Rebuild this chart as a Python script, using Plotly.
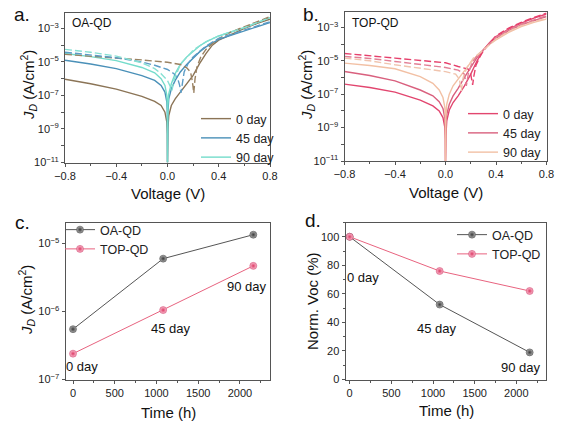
import plotly.graph_objects as go

# ---- panel a: OA-QD J-V, log10 of |J| (A/cm^2) ----
V_DARK = [-0.8, -0.6, -0.4, -0.2, -0.1, -0.05, -0.02, -0.005, -0.001, 0.0, 0.003, 0.01, 0.03, 0.06,
          0.1, 0.15, 0.2, 0.25, 0.3, 0.35, 0.4, 0.5, 0.6, 0.7, 0.8]
OA_DARK_0 = [-6.03, -6.3, -6.62, -7.05, -7.35, -7.6, -8.0, -8.6, -9.3, -11.0, -9.0, -8.2, -7.6, -7.2,
             -6.8, -6.3, -5.8, -5.1, -4.5, -4.0, -3.7, -3.35, -3.0, -2.7, -2.45]
OA_DARK_45 = [-4.9, -5.12, -5.4, -5.82, -6.1, -6.4, -6.8, -7.4, -8.1, -11.0, -8.0, -7.2, -6.6, -6.1,
              -5.6, -5.15, -4.75, -4.4, -4.1, -3.85, -3.65, -3.4, -3.15, -2.9, -2.65]
OA_DARK_90 = [-4.5, -4.68, -4.92, -5.33, -5.65, -6.0, -6.4, -7.0, -7.7, -11.0, -7.6, -6.9, -6.3, -5.7,
              -5.15, -4.7, -4.35, -4.05, -3.8, -3.6, -3.45, -3.2, -2.95, -2.65, -2.35]

V_OA_LIGHT_0 = [-0.8, -0.6, -0.4, -0.2, 0.0, 0.1, 0.15, 0.18, 0.195, 0.205, 0.215, 0.23, 0.26, 0.3,
                0.35, 0.4, 0.5, 0.6, 0.7, 0.8]
OA_LIGHT_0 = [-4.55, -4.65, -4.75, -4.88, -5.02, -5.15, -5.35, -5.6, -6.2, -6.85, -6.0, -5.3, -4.7, -4.25,
              -3.9, -3.6, -3.2, -2.9, -2.6, -2.3]
V_OA_LIGHT_45 = [-0.8, -0.6, -0.4, -0.2, -0.1, 0.0, 0.05, 0.08, 0.095, 0.105, 0.115, 0.13, 0.16, 0.2,
                 0.3, 0.4, 0.5, 0.6, 0.7, 0.8]
OA_LIGHT_45 = [-4.42, -4.58, -4.75, -5.0, -5.2, -5.45, -5.7, -6.0, -6.4, -6.85, -6.2, -5.6, -5.1, -4.7,
               -4.05, -3.6, -3.35, -3.1, -2.85, -2.6]
V_OA_LIGHT_90 = [-0.8, -0.6, -0.4, -0.2, -0.1, -0.05, 0.0, 0.02, 0.035, 0.05, 0.08, 0.1, 0.2, 0.3,
                 0.4, 0.5, 0.6, 0.7, 0.8]
OA_LIGHT_90 = [-4.25, -4.42, -4.65, -5.05, -5.4, -5.7, -6.1, -6.5, -6.7, -6.1, -5.5, -5.15, -4.3, -3.8,
               -3.45, -3.2, -2.95, -2.65, -2.35]

# ---- panel b: TOP-QD J-V ----
TOP_DARK_0 = [-6.4, -6.6, -6.88, -7.35, -7.7, -8.0, -8.4, -9.0, -9.7, -11.0, -9.5, -8.6, -7.95, -7.5,
              -7.1, -6.5, -5.8, -5.0, -4.35, -3.9, -3.55, -3.1, -2.75, -2.45, -2.2]
TOP_DARK_45 = [-5.64, -5.88, -6.2, -6.75, -7.1, -7.45, -7.85, -8.45, -9.2, -11.0, -9.0, -8.2, -7.6, -7.1,
               -6.65, -6.0, -5.4, -4.8, -4.35, -3.95, -3.65, -3.2, -2.85, -2.6, -2.35]
TOP_DARK_90 = [-5.14, -5.28, -5.48, -5.95, -6.35, -6.75, -7.2, -7.8, -8.5, -11.0, -8.4, -7.6, -7.0, -6.5,
               -6.1, -5.6, -5.1, -4.7, -4.35, -4.0, -3.75, -3.3, -2.95, -2.7, -2.5]

V_TOP_LIGHT_0 = [-0.8, -0.6, -0.4, -0.2, 0.0, 0.1, 0.18, 0.2, 0.215, 0.225, 0.24, 0.27, 0.3, 0.4,
                 0.5, 0.6, 0.7, 0.8]
TOP_LIGHT_0 = [-4.56, -4.68, -4.84, -4.98, -5.12, -5.34, -5.5, -5.8, -6.45, -5.9, -5.3, -4.8, -4.4, -3.5,
               -3.05, -2.7, -2.4, -2.15]
V_TOP_LIGHT_45 = [-0.8, -0.6, -0.4, -0.2, 0.0, 0.1, 0.15, 0.165, 0.18, 0.21, 0.25, 0.3, 0.4, 0.5,
                  0.6, 0.7, 0.8]
TOP_LIGHT_45 = [-4.74, -4.86, -5.04, -5.22, -5.4, -5.56, -5.8, -6.5, -5.8, -5.1, -4.7, -4.35, -3.6, -3.15,
                -2.8, -2.55, -2.3]
V_TOP_LIGHT_90 = [-0.8, -0.6, -0.4, -0.2, 0.0, 0.08, 0.11, 0.125, 0.14, 0.17, 0.22, 0.3, 0.4, 0.5,
                  0.6, 0.7, 0.8]
TOP_LIGHT_90 = [-4.84, -5.0, -5.24, -5.45, -5.65, -5.8, -6.1, -6.8, -6.0, -5.4, -4.85, -4.35, -3.7, -3.25,
                -2.9, -2.65, -2.45]

# ---- panels c, d: aging ----
TIME_H = [0, 1080, 2160]
DAY_LABELS = ["0 day", "45 day", "90 day"]
JD_OA = [5.5e-7, 6.0e-6, 1.35e-5]
JD_TOP = [2.4e-7, 1.05e-6, 4.7e-6]
VOC_OA = [100, 52.5, 19]
VOC_TOP = [100, 76, 62]

# tick labels for the log axes
LOG_TICKS_AB = [-11, -10, -9, -8, -7, -6, -5, -4, -3]
LOG_TICKS_C = [-7, -6, -5]

FONT = "Liberation Sans, Arial, sans-serif"
OA_COLORS = ["#8b7456", "#4a90b8", "#74dccb"]
OA_DASH_COLORS = ["#9a8262", "#5c9cc6", "#86e0d2"]
TOP_COLORS = ["#e2466f", "#d9607e", "#f2c0a4"]
TOP_DASH_COLORS = ["#e6406c", "#e27f95", "#f0c4ae"]


def pow10(vals):
    return [10 ** v for v in vals]


def log_ticktext(exps):
    # label only odd decades, like the original
    return ["10<sup>\u2212%d</sup>" % -e if e % 2 else "" for e in exps]


fig = go.Figure()

# panel a
for lab, ys, col in zip(DAY_LABELS, [OA_DARK_0, OA_DARK_45, OA_DARK_90], OA_COLORS):
    fig.add_trace(go.Scatter(x=V_DARK, y=pow10(ys), mode="lines", name=lab,
                             line=dict(color=col, width=1.4), xaxis="x", yaxis="y", legend="legend"))
for vs, ys, col in zip([V_OA_LIGHT_0, V_OA_LIGHT_45, V_OA_LIGHT_90], [OA_LIGHT_0, OA_LIGHT_45, OA_LIGHT_90],
                       OA_DASH_COLORS):
    fig.add_trace(go.Scatter(x=vs, y=pow10(ys), mode="lines", showlegend=False,
                             line=dict(color=col, width=1.4, dash="7px,3px"), xaxis="x", yaxis="y"))

# panel b
for lab, ys, col in zip(DAY_LABELS, [TOP_DARK_0, TOP_DARK_45, TOP_DARK_90], TOP_COLORS):
    fig.add_trace(go.Scatter(x=V_DARK, y=pow10(ys), mode="lines", name=lab,
                             line=dict(color=col, width=1.4), xaxis="x2", yaxis="y2", legend="legend2"))
for vs, ys, col in zip([V_TOP_LIGHT_0, V_TOP_LIGHT_45, V_TOP_LIGHT_90], [TOP_LIGHT_0, TOP_LIGHT_45, TOP_LIGHT_90],
                       TOP_DASH_COLORS):
    fig.add_trace(go.Scatter(x=vs, y=pow10(ys), mode="lines", showlegend=False,
                             line=dict(color=col, width=1.4, dash="7px,3px"), xaxis="x2", yaxis="y2"))

oa_marker = dict(size=7, color="#b0b0b0", gradient=dict(type="radial", color="#3a3a3a"),
                 line=dict(width=0.5, color="#3a3a3a"))
top_marker = dict(size=7, color="#fbc0d0", gradient=dict(type="radial", color="#dc3a66"),
                  line=dict(width=0.5, color="#c83060"))

# panel c
fig.add_trace(go.Scatter(x=TIME_H, y=JD_OA, mode="lines+markers", name="OA-QD",
                         line=dict(color="#555555", width=1), marker=oa_marker,
                         xaxis="x3", yaxis="y3", legend="legend3"))
fig.add_trace(go.Scatter(x=TIME_H, y=JD_TOP, mode="lines+markers", name="TOP-QD",
                         line=dict(color="#e8637f", width=1), marker=top_marker,
                         xaxis="x3", yaxis="y3", legend="legend3"))

# panel d
fig.add_trace(go.Scatter(x=TIME_H, y=VOC_OA, mode="lines+markers", name="OA-QD",
                         line=dict(color="#555555", width=1), marker=oa_marker,
                         xaxis="x4", yaxis="y4", legend="legend4"))
fig.add_trace(go.Scatter(x=TIME_H, y=VOC_TOP, mode="lines+markers", name="TOP-QD",
                         line=dict(color="#e8637f", width=1), marker=top_marker,
                         xaxis="x4", yaxis="y4", legend="legend4"))

axis_style = dict(showline=True, mirror=True, linecolor="#555555", linewidth=1, ticks="outside",
                  ticklen=3, tickcolor="#555555", showgrid=False, zeroline=False, automargin=False,
                  tickfont=dict(family=FONT, size=11, color="#222222"))

W, H = 569, 430


def px_x(a, b):
    return [a / W, b / W]


def px_y(top, bottom):
    return [1 - bottom / H, 1 - top / H]


def legend_at(x, y):
    return dict(x=x / W, y=1 - y / H, xanchor="left", yanchor="top", bgcolor="rgba(0,0,0,0)",
                font=dict(family=FONT, size=12.5, color="#222222"), tracegroupgap=0, itemwidth=30)


annotations = []


def text(x, y, s, size=13, angle=0, xanchor="center"):
    annotations.append(dict(x=x / W, y=1 - y / H, xref="paper", yref="paper", text=s, showarrow=False,
                            textangle=angle, xanchor=xanchor, yanchor="middle",
                            font=dict(family=FONT, size=size, color="#111111")))


jd_title = "<i>J</i><sub><i>D</i></sub> (A/cm<sup>2</sup>)"
text(22, 15, "a.", 19)
text(311, 15, "b.", 19)
text(22, 222, "c.", 19)
text(313, 221, "d.", 19)
text(70, 23, "OA-QD", 12, xanchor="left")
text(350, 23, "TOP-QD", 12, xanchor="left")
text(28, 85, jd_title, 15, -90)
text(306, 85, jd_title, 15, -90)
text(26, 300, jd_title, 15, -90)
text(312, 301, "Norm. Voc (%)", 15, -90)
text(168, 193, "Voltage (V)", 15)
text(446, 192, "Voltage (V)", 15)
text(168, 412, "Time (h)", 15)
text(446, 410, "Time (h)", 15)
for lab, xp, yp in zip(DAY_LABELS, [82, 171, 247], [366, 328, 286]):
    text(xp, yp, lab, 13)
for lab, xp, yp in zip(DAY_LABELS, [363, 437, 521], [277, 328, 367]):
    text(xp, yp, lab, 13)

fig.update_layout(
    width=W, height=H, margin=dict(l=0, r=0, t=0, b=0, autoexpand=False),
    paper_bgcolor="white", plot_bgcolor="white",
    font=dict(family=FONT, color="#222222"),
    xaxis=dict(axis_style, domain=px_x(65, 270), range=[-0.8, 0.8], tickvals=[-0.8, -0.4, 0, 0.4, 0.8],
               tickformat=".1f", minor=dict(ticks="outside", ticklen=2, dtick=0.2, tickcolor="#555555"),
               anchor="y"),
    yaxis=dict(axis_style, domain=px_y(12.5, 162.5), type="log", range=[-11, -2.05],
               tickvals=pow10(LOG_TICKS_AB), ticktext=log_ticktext(LOG_TICKS_AB), anchor="x"),
    xaxis2=dict(axis_style, domain=px_x(344.5, 546.5), range=[-0.8, 0.8], tickvals=[-0.8, -0.4, 0, 0.4, 0.8],
                tickformat=".1f", minor=dict(ticks="outside", ticklen=2, dtick=0.2, tickcolor="#555555"),
                anchor="y2"),
    yaxis2=dict(axis_style, domain=px_y(11.5, 161), type="log", range=[-11, -2.05],
                tickvals=pow10(LOG_TICKS_AB), ticktext=log_ticktext(LOG_TICKS_AB), anchor="x2"),
    xaxis3=dict(axis_style, domain=px_x(65.5, 270), range=[-90, 2360], dtick=500,
                minor=dict(ticks="outside", ticklen=2, dtick=250, tickcolor="#555555"), anchor="y3"),
    yaxis3=dict(axis_style, domain=px_y(222.5, 379.5), type="log", range=[-7, -4.69],
                tickvals=pow10(LOG_TICKS_C), ticktext=["10<sup>\u2212%d</sup>" % -e for e in LOG_TICKS_C],
                anchor="x3"),
    xaxis4=dict(axis_style, domain=px_x(345.5, 545.5), range=[-50, 2350], dtick=500,
                minor=dict(ticks="outside", ticklen=2, dtick=250, tickcolor="#555555"), anchor="y4"),
    yaxis4=dict(axis_style, domain=px_y(222.5, 379.5), range=[0, 110], dtick=20,
                minor=dict(ticks="outside", ticklen=2, dtick=10, tickcolor="#555555"), anchor="x4"),
    legend=legend_at(196, 104),
    legend2=legend_at(463, 99),
    legend3=legend_at(60, 215),
    legend4=legend_at(452, 220),
    annotations=annotations,
)

# the page's default body margin would shift the figure by 8px
fig.write_html("out.html", config={"displayModeBar": False},
               post_script="document.body.style.margin='0';")
